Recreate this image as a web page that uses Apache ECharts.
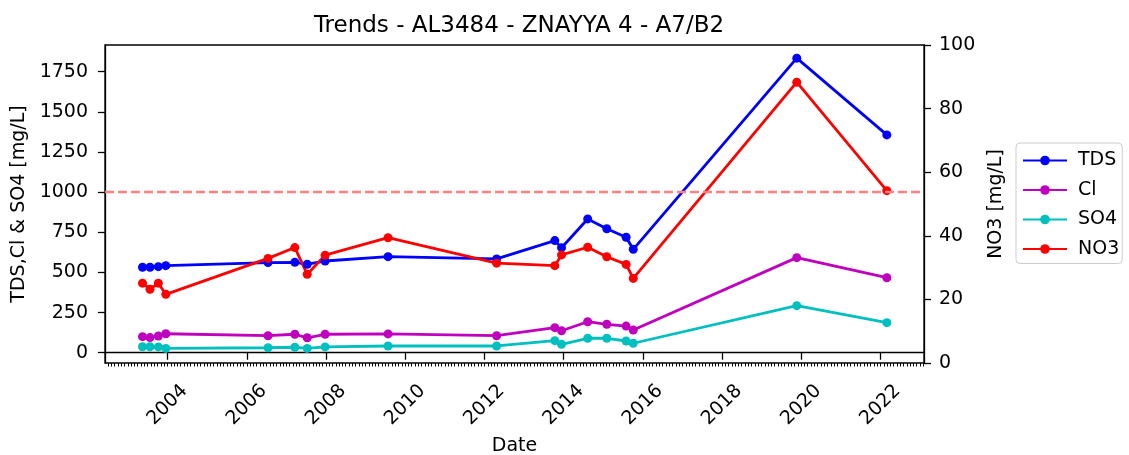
<!DOCTYPE html>
<html>
<head>
<meta charset="utf-8">
<title>Trends - AL3484 - ZNAYYA 4 - A7/B2</title>
<script src="https://cdn.jsdelivr.net/npm/echarts@6/dist/echarts.min.js"></script>
<style>
  html, body { margin: 0; padding: 0; background: #ffffff; }
  #chart { width: 1129px; height: 455px; }
</style>
</head>
<body>
<div id="chart"></div>
<script>
// Sampling dates
const dates = [
  '2003-05-15', '2003-07-23', '2003-10-08', '2003-12-16',
  '2006-07-16', '2007-03-20', '2007-07-12', '2007-12-24',
  '2009-07-27', '2012-04-23', '2013-10-12', '2013-12-13',
  '2014-08-11', '2015-02-03', '2015-07-31', '2015-10-05',
  '2019-11-21', '2022-03-01'
];

// Concentrations [mg/L]
const tds = [532, 532, 536, 542, 561, 563, 551, 571, 598, 584, 698, 654, 833, 772, 719, 644, 1834, 1356];
const cl  = [100, 94, 104, 118, 106, 115, 93, 115, 117, 106, 156, 137, 193, 177, 166, 141, 592, 467];
const so4 = [37, 37, 36, 27, 31, 34, 27, 36, 42, 42, 75, 52, 90, 90, 73, 59, 293, 187];
const no3 = [25.1, 23.2, 25.1, 21.6, 32.9, 36.3, 27.9, 33.9, 39.4, 31.4, 30.6, 34.0, 36.4, 33.4, 31.0, 26.6, 88.3, 54.2];

// Threshold drawn as a dashed line on the left axis
const tdsLimit = 1000;

// Tick labels
const yearTicks = [2004, 2006, 2008, 2010, 2012, 2014, 2016, 2018, 2020, 2022];
const leftTicks = [0, 250, 500, 750, 1000, 1250, 1500, 1750];

const FONT = 'DejaVu Sans';

// Convert 'YYYY-MM-DD' to a fractional year
function toYear(s) {
  const [y, m, d] = s.split('-').map(Number);
  const t0 = Date.UTC(y, 0, 1), t1 = Date.UTC(y + 1, 0, 1);
  return y + (Date.UTC(y, m - 1, d) - t0) / (t1 - t0);
}

const xs = dates.map(toYear);
const pairs = vals => vals.map((v, i) => [xs[i], v]);

const xMin = 2002.42, xMax = 2023.10;

// Monthly minor ticks along the date axis
const monthTicks = [];
for (let y = 2002; y <= 2023; y++) {
  for (let m = 1; m <= 12; m++) {
    const v = toYear(y + '-' + String(m).padStart(2, '0') + '-01');
    if (v >= xMin && v <= xMax) monthTicks.push(v);
  }
}

const axisLineStyle = { color: '#000000', width: 1.3 };

function lineSeries(name, color, vals, yIdx) {
  return {
    name: name,
    type: 'line',
    xAxisIndex: 0,
    yAxisIndex: yIdx,
    data: pairs(vals),
    symbol: 'circle',
    symbolSize: 9,
    showSymbol: true,
    color: color,
    lineStyle: { color: color, width: 2.8 },
    itemStyle: { color: color },
    emphasis: { disabled: true },
    animation: false
  };
}

const chart = echarts.init(document.getElementById('chart'), null, { renderer: 'canvas' });

const tdsSeries = lineSeries('TDS', '#0000ff', tds, 0);
tdsSeries.markLine = {
  silent: true,
  symbol: 'none',
  label: { show: false },
  lineStyle: { color: '#ff8080', type: [9, 4], width: 2.4 },
  data: [{ yAxis: tdsLimit }],
  animation: false
};

chart.setOption({
  backgroundColor: '#ffffff',
  animation: false,
  textStyle: { fontFamily: FONT },
  title: {
    text: 'Trends - AL3484 - ZNAYYA 4 - A7/B2',
    left: 514,
    textAlign: 'center',
    top: 10,
    textStyle: { fontFamily: FONT, fontSize: 23, fontWeight: 'normal', color: '#000000' }
  },
  grid: {
    left: 105, right: 205, top: 45, bottom: 92,
    outerBoundsMode: 'none',
    containLabel: false,
    show: true,
    borderColor: '#000000',
    borderWidth: 1.3,
    backgroundColor: 'transparent'
  },
  legend: {
    data: ['TDS', 'Cl', 'SO4', 'NO3'],
    orient: 'vertical',
    left: 1016,
    top: 143,
    padding: [8, 3, 5, 6],
    itemWidth: 44,
    itemHeight: 12,
    itemGap: 10.5,
    borderColor: '#cccccc',
    borderWidth: 1,
    borderRadius: 4,
    textStyle: { fontFamily: FONT, fontSize: 19, color: '#000000', padding: [0, 0, 0, 6] }
  },
  xAxis: [
    {
      type: 'value',
      position: 'bottom',
      min: xMin,
      max: xMax,
      name: 'Date',
      nameLocation: 'middle',
      nameGap: 74,
      nameTextStyle: { fontFamily: FONT, fontSize: 19, color: '#000000' },
      axisLine: { show: true, lineStyle: axisLineStyle },
      axisTick: { show: true, length: 7, customValues: yearTicks, lineStyle: axisLineStyle },
      axisLabel: {
        customValues: yearTicks,
        rotate: 45,
        align: 'center',
        verticalAlign: 'middle',
        margin: 42,
        fontFamily: FONT,
        fontSize: 19,
        color: '#000000',
        formatter: v => String(Math.round(v))
      },
      splitLine: { show: false }
    },
    {
      type: 'value',
      position: 'bottom',
      min: xMin,
      max: xMax,
      axisLine: { show: false },
      axisTick: { show: true, length: 3.5, customValues: monthTicks, lineStyle: { color: '#000000', width: 1 } },
      axisLabel: { show: false },
      splitLine: { show: false }
    }
  ],
  yAxis: [
    {
      type: 'value',
      position: 'left',
      min: -64,
      max: 1916,
      name: 'TDS,Cl & SO4 [mg/L]',
      nameLocation: 'middle',
      nameGap: 69,
      nameTextStyle: { fontFamily: FONT, fontSize: 19, color: '#000000' },
      axisLine: { show: true, lineStyle: axisLineStyle },
      axisTick: { show: true, length: 7, customValues: leftTicks, lineStyle: axisLineStyle },
      axisLabel: {
        customValues: leftTicks, margin: 17, fontFamily: FONT, fontSize: 19, color: '#000000',
        formatter: v => String(v)
      },
      splitLine: { show: false }
    },
    {
      type: 'value',
      position: 'right',
      min: 0,
      max: 100,
      interval: 20,
      name: 'NO3 [mg/L]',
      nameLocation: 'middle',
      nameGap: 52,
      nameTextStyle: { fontFamily: FONT, fontSize: 19, color: '#000000' },
      axisLine: { show: true, lineStyle: axisLineStyle },
      axisTick: { show: true, length: 7, lineStyle: axisLineStyle },
      axisLabel: { margin: 15, fontFamily: FONT, fontSize: 19, color: '#000000' },
      splitLine: { show: false }
    }
  ],
  series: [
    tdsSeries,
    lineSeries('Cl', '#bf00bf', cl, 0),
    lineSeries('SO4', '#00bfbf', so4, 0),
    lineSeries('NO3', '#ff0000', no3, 1)
  ]
});
</script>
</body>
</html>
